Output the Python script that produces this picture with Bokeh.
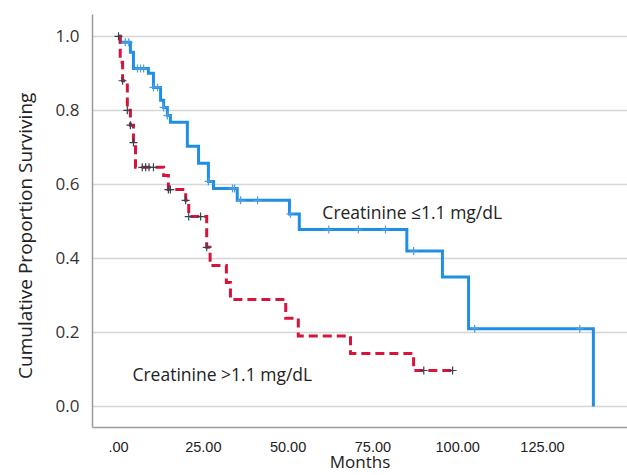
from bokeh.plotting import figure
from bokeh.models import Range1d, FixedTicker, Label, PrintfTickFormatter
from bokeh.embed import file_html
from bokeh.resources import INLINE

# ---- data ----
low_times = [0, 0.5, 3.5, 4.4, 8.8, 10.3, 12.4, 13.3, 14.4, 15.3, 20.3, 23.6, 26.5,
             28.0, 35.0, 50.4, 53.3, 85.0, 95.5, 103.2, 140.0]
low_surv = [1.0, 0.984, 0.957, 0.913, 0.90, 0.862, 0.827, 0.808, 0.786, 0.768, 0.703,
            0.657, 0.608, 0.589, 0.557, 0.52, 0.478, 0.42, 0.35, 0.21, 0.0]
low_censor = [2.0, 3.0, 5.6, 6.5, 7.4, 10.3, 11.5, 13.3, 14.4, 26.5, 33.6, 34.2, 36.0,
              41.0, 50.7, 62.0, 70.7, 78.7, 87.0, 105.0, 136.0]

high_times = [0, 0.5, 1.2, 2.6, 3.5, 4.4, 5.0, 13.3, 14.7, 19.8, 20.7, 26.0, 27.0, 31.8,
              33.0, 49.3, 53.0, 68.4, 87.0, 98.5]
high_surv = [1.0, 0.93, 0.88, 0.80, 0.76, 0.713, 0.646, 0.624, 0.586, 0.557, 0.513, 0.43,
             0.381, 0.335, 0.289, 0.238, 0.19, 0.143, 0.097, 0.097]
high_censor = [0, 1.2, 2.6, 3.5, 4.4, 7.0, 8.0, 9.0, 10.3, 14.7, 15.3, 19.8, 20.7, 24.2,
               26.0, 90.0, 98.5]

x_ticks = [0, 25, 50, 75, 100, 125]
x_tick_labels = [".00", "25.00", "50.00", "75.00", "100.00", "125.00"]
y_ticks = [0.0, 0.2, 0.4, 0.6, 0.8, 1.0]

low_label = "Creatinine \u22641.1 mg/dL"
high_label = "Creatinine >1.1 mg/dL"
x_title = "Months"
y_title = "Cumulative Proportion Surviving"


def surv_at(times, surv, t):
    idx = 0
    for i, tt in enumerate(times):
        if tt <= t:
            idx = i
    return surv[idx]


low_censor_y = [surv_at(low_times, low_surv, t) for t in low_censor]
high_censor_y = [surv_at(high_times, high_surv, t) for t in high_censor]

BLUE = "#1f8fe6"
RED = "#d6143c"

p = figure(width=627, height=475, output_backend="svg", toolbar_location=None,
           x_range=Range1d(-7.67, 150.06), y_range=Range1d(-0.057, 1.059),
           min_border_left=92, min_border_right=0, min_border_top=14, min_border_bottom=48)
p.outline_line_color = None
p.background_fill_color = "white"
p.border_fill_color = "white"

p.xgrid.grid_line_color = None
p.ygrid.grid_line_color = "#d6d6d6"
p.ygrid.grid_line_width = 1.5

yt = FixedTicker(ticks=y_ticks)
p.yaxis.ticker = yt
p.ygrid.ticker = yt
p.yaxis.formatter = PrintfTickFormatter(format="%.1f")
p.xaxis.ticker = FixedTicker(ticks=x_ticks)
p.xaxis.major_label_overrides = {t: l for t, l in zip(x_ticks, x_tick_labels)}

for ax in (p.xaxis[0], p.yaxis[0]):
    ax.axis_line_color = "#9a9a9a"
    ax.axis_line_width = 1.5
    ax.major_tick_line_color = None
    ax.minor_tick_line_color = None
    ax.major_tick_out = 0
    ax.major_tick_in = 0

p.yaxis.major_label_text_font = "Open Sans"
p.yaxis.major_label_text_font_size = "17px"
p.yaxis.major_label_text_color = "#333333"
p.yaxis.major_label_standoff = 13
p.yaxis.axis_label = y_title + "\u00a0" * 6
p.yaxis.axis_label_text_font = "Open Sans"
p.yaxis.axis_label_text_font_size = "19px"
p.yaxis.axis_label_text_font_style = "normal"
p.yaxis.axis_label_text_color = "#222222"
p.yaxis.axis_label_standoff = 15

p.xaxis.major_label_text_font = "Liberation Sans"
p.xaxis.major_label_text_font_size = "14.5px"
p.xaxis.major_label_text_color = "#222222"
p.xaxis.major_label_standoff = 14
p.xaxis.axis_label = x_title
p.xaxis.axis_label_text_font = "Open Sans"
p.xaxis.axis_label_text_font_size = "17px"
p.xaxis.axis_label_text_font_style = "normal"
p.xaxis.axis_label_text_color = "#222222"
p.xaxis.axis_label_standoff = -5

p.step(x=low_times, y=low_surv, mode="after", line_color=BLUE, line_width=3,
       line_join="miter")
p.step(x=high_times, y=high_surv, mode="after", line_color=RED, line_width=3,
       line_dash="9 5", line_join="miter")

p.scatter(x=low_censor, y=low_censor_y, marker="cross", size=8, line_color="#4f9ee0",
          line_width=1.2)
p.scatter(x=high_censor, y=high_censor_y, marker="cross", size=8, line_color="#33444d",
          line_width=1.2)

p.add_layout(Label(x=60.1, y=0.524, text=low_label, text_font="Open Sans",
                   text_font_size="17.5px", text_color="#222222",
                   text_baseline="alphabetic", text_align="left"))
p.add_layout(Label(x=4.1, y=0.0865, text=high_label, text_font="Open Sans",
                   text_font_size="17.5px", text_color="#222222",
                   text_baseline="alphabetic", text_align="left"))

open("out.html", "w").write(file_html(p, INLINE))
